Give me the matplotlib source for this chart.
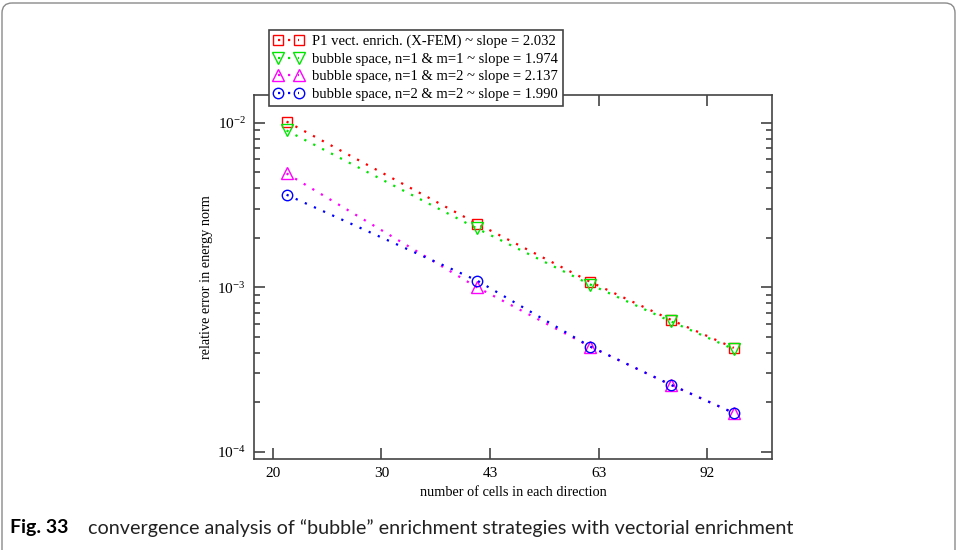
import numpy as np
import matplotlib
matplotlib.use("Agg")
import matplotlib.pyplot as plt
from matplotlib.patches import FancyBboxPatch
from matplotlib.ticker import FixedLocator, NullLocator, LogLocator, NullFormatter

plt.rcParams['font.family'] = ['Liberation Serif', 'DejaVu Serif']
plt.rcParams['mathtext.fontset'] = 'stix'

# data
cells = [21, 41, 61, 81, 101]
err_p1 = [1.02e-2, 2.44e-3, 1.08e-3, 6.34e-4, 4.28e-4]
err_b11 = [9.0e-3, 2.28e-3, 1.04e-3, 6.2e-4, 4.2e-4]
err_b12 = [4.93e-3, 1.0e-3, 4.36e-4, 2.55e-4, 1.72e-4]
err_b22 = [3.66e-3, 1.1e-3, 4.36e-4, 2.55e-4, 1.72e-4]

labels = ["P1 vect. enrich. (X-FEM) ~ slope = 2.032",
          "bubble space, n=1 & m=1 ~ slope = 1.974",
          "bubble space, n=1 & m=2 ~ slope = 2.137",
          "bubble space, n=2 & m=2 ~ slope = 1.990"]
colors = ['#ff0000', '#00e600', '#ff00ff', '#0000ff']
markers = ['s', 'v', '^', 'o']

xtick_vals = [20 * 4.6 ** (k / 4) for k in range(5)]
xtick_labels = ['20', '30', '43', '63', '92']

fig = plt.figure(figsize=(9.58, 5.5), dpi=100)

# outer rounded frame + caption
bg = fig.add_axes([0, 0, 1, 1])
bg.set_xlim(0, 958)
bg.set_ylim(550, 0)
bg.axis('off')
bg.add_patch(FancyBboxPatch((2, 3), 953, 580, boxstyle="round,pad=0,rounding_size=10",
                            fc='none', ec='#8a8a8a', lw=1.0))
bg.text(10, 528, "Fig. 33", fontsize=14, fontweight='bold', family=['Lato', 'DejaVu Sans'],
        va='center', ha='left')
bg.text(88, 528, "convergence analysis of \u201cbubble\u201d enrichment strategies with vectorial enrichment",
        fontsize=14.2, family=['Lato', 'DejaVu Sans'], va='center', ha='left', color='#222222')

ax = fig.add_axes([254 / 958, 1 - 458.7 / 550, (772 - 254) / 958, (458.7 - 95) / 550])
series = [err_p1, err_b11, err_b12, err_b22]
for ys, c, m, lab in zip(series, colors, markers, labels):
    ax.plot(cells, ys, linestyle=(0, (1, 3.5)), lw=1.6, color=c, marker=m,
            markersize=7.5 if m in 'so' else 8, mfc='none', mec=c, mew=1.0, label=lab)

ax.set_xscale('log')
ax.set_yscale('log')
ax.set_xlim(18.73, 115.5)
ax.set_ylim(9.06e-5, 1.48e-2)

ax.xaxis.set_major_locator(FixedLocator(xtick_vals))
ax.xaxis.set_minor_locator(NullLocator())
ax.set_xticklabels(xtick_labels)
ax.yaxis.set_major_locator(LogLocator(base=10))
ax.yaxis.set_minor_locator(LogLocator(base=10, subs=np.arange(2, 10)))
ax.yaxis.set_minor_formatter(NullFormatter())

for s in ax.spines.values():
    s.set_color('#444444')
    s.set_linewidth(1.2)
ax.tick_params(which='major', direction='in', length=8, width=1.2, color='#444444',
               top=True, right=True, labelsize=11, pad=6)
ax.tick_params(which='minor', direction='in', length=4, width=1.2, color='#444444',
               top=True, right=True)

ax.set_xlabel("number of cells in each direction", fontsize=10.3, labelpad=4)
ax.set_ylabel("relative error in energy norm", fontsize=10.3, labelpad=3)

leg = ax.legend(loc='upper left', bbox_to_anchor=(269 / 958, 1 - 30 / 550),
                bbox_transform=fig.transFigure, numpoints=2, fontsize=10.5,
                handlelength=2.05, handletextpad=0.6, borderpad=0.32, labelspacing=0.3,
                borderaxespad=0, fancybox=False, framealpha=1)
leg.get_frame().set_edgecolor('#444444')
leg.get_frame().set_linewidth(1.2)

fig.savefig("out.png", dpi=100)
